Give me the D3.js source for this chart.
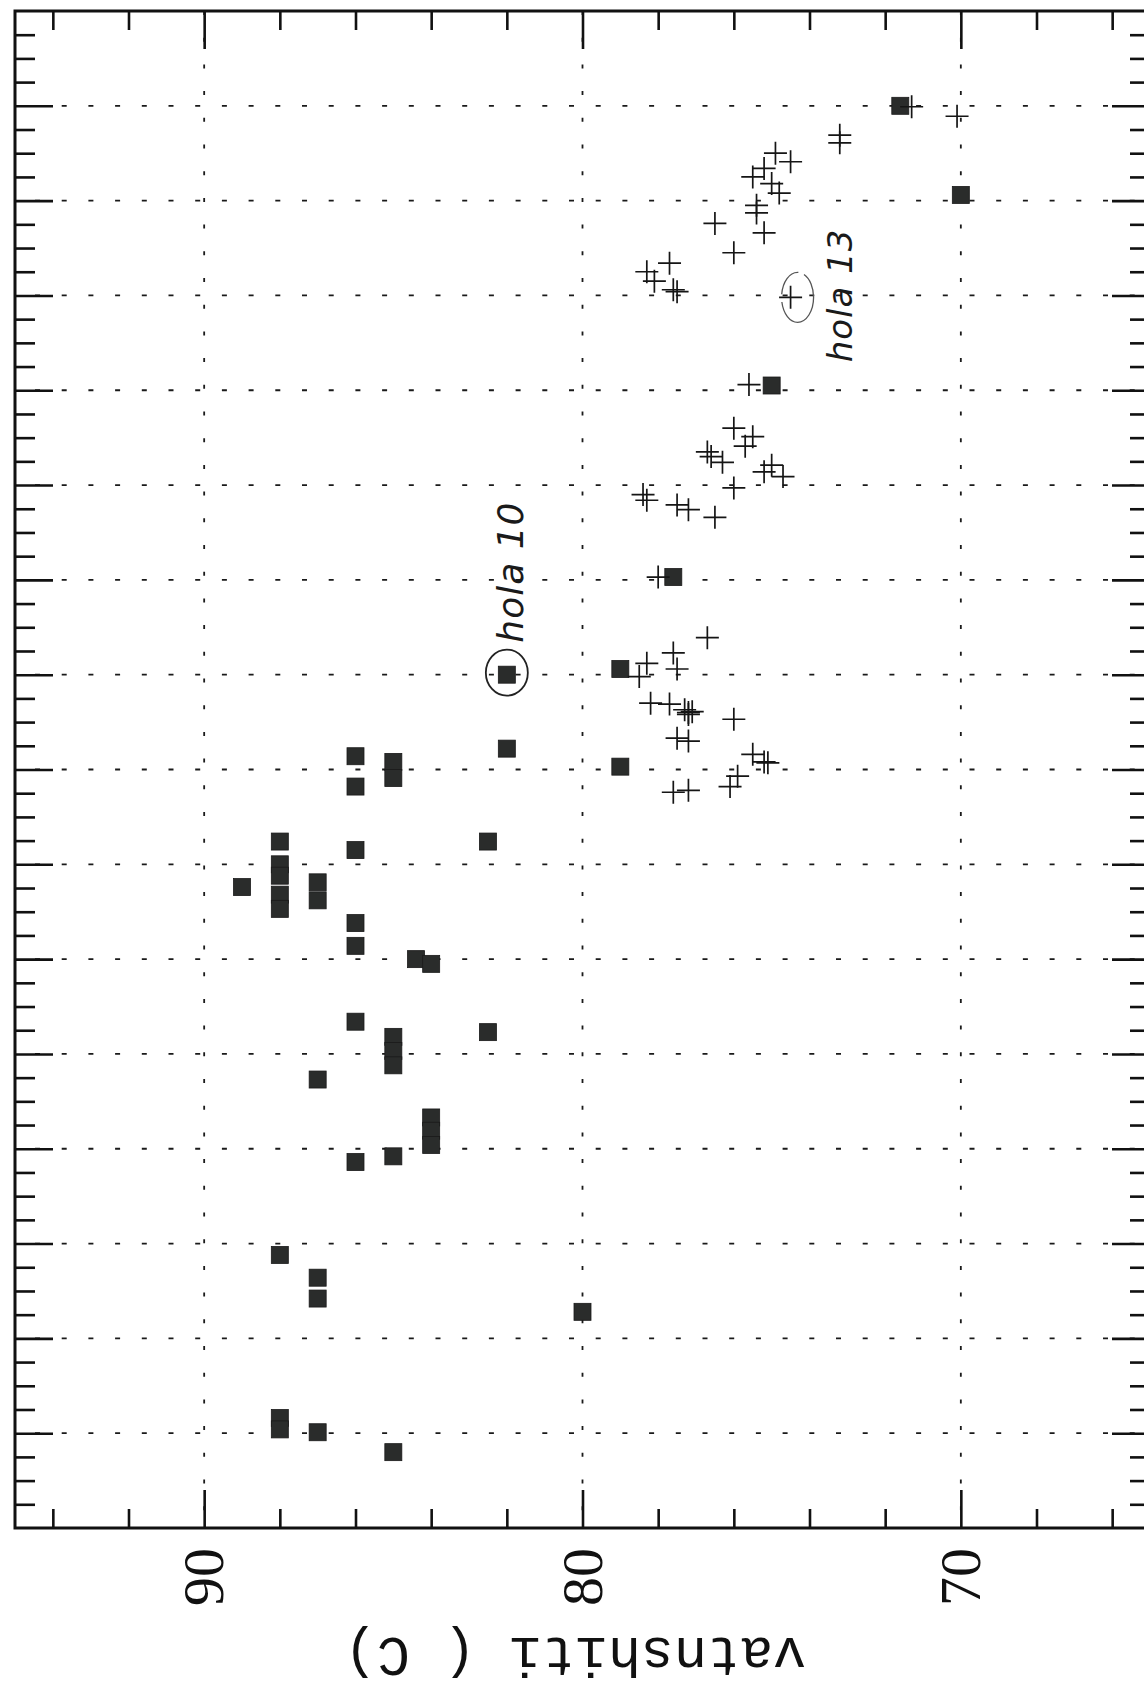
<!DOCTYPE html>
<html>
<head>
<meta charset="utf-8">
<script src="https://cdn.jsdelivr.net/npm/d3@7"></script>
<style>
  body { margin: 0; background: #fff; }
  svg { display: block; }
</style>
</head>
<body>
<svg id="chart" width="1144" height="1697"></svg>
<script>
// filled squares: [vatnshiti (C), position along the other axis]
const squarePoints = [
  [71.6, 15.00], [70.0, 14.06], [75.0, 12.05], [77.6, 10.03], [82.0, 9.00],
  [79.0, 9.06], [82.0, 8.22], [79.0, 8.03], [86.0, 8.14], [85.0, 8.08],
  [85.0, 7.91], [86.0, 7.82], [88.0, 7.24], [82.5, 7.24], [86.0, 7.15],
  [88.0, 7.00], [88.0, 6.88], [89.0, 6.76], [87.0, 6.81], [87.0, 6.62],
  [88.0, 6.68], [88.0, 6.53], [86.0, 6.38], [86.0, 6.14], [84.4, 6.00],
  [84.0, 5.95], [86.0, 5.34], [82.5, 5.23], [85.0, 5.18], [85.0, 5.03],
  [85.0, 4.88], [87.0, 4.73], [84.0, 4.33], [84.0, 4.19], [84.0, 4.04],
  [85.0, 3.92], [86.0, 3.86], [88.0, 2.88], [87.0, 2.64], [87.0, 2.42],
  [80.0, 2.28], [88.0, 1.16], [88.0, 1.04], [87.0, 1.01], [85.0, 0.80]
];

// crosses
const crossPoints = [
  [71.3, 14.99], [70.1, 14.89], [73.2, 14.69], [73.2, 14.61], [74.9, 14.50],
  [74.5, 14.41], [75.2, 14.34], [75.5, 14.25], [75.0, 14.18], [74.8, 14.08],
  [75.4, 13.95], [75.4, 13.87], [76.5, 13.76], [75.2, 13.66], [76.0, 13.45],
  [77.7, 13.34], [78.3, 13.25], [78.1, 13.15], [77.6, 13.06], [77.5, 13.04],
  [74.5, 12.98], [75.6, 12.06], [76.0, 11.60], [75.5, 11.51], [75.7, 11.41],
  [76.7, 11.35], [76.6, 11.30], [76.3, 11.24], [75.0, 11.21], [75.2, 11.14],
  [74.7, 11.09], [76.0, 10.97], [78.4, 10.90], [78.3, 10.84], [77.5, 10.79],
  [77.2, 10.74], [76.5, 10.66], [78.0, 10.03], [76.7, 9.39], [78.3, 9.12],
  [77.6, 9.23], [77.5, 9.06], [78.5, 8.98], [78.2, 8.70], [77.7, 8.69],
  [77.3, 8.63], [77.2, 8.60], [77.2, 8.58], [77.1, 8.61], [76.0, 8.53],
  [77.5, 8.33], [77.2, 8.30], [75.5, 8.16], [75.2, 8.08], [75.1, 8.07],
  [75.9, 7.93], [76.1, 7.82], [77.6, 7.76], [77.2, 7.78]
];

const tempMinorTicks = [94, 92, 88, 86, 84, 82, 78, 76, 74, 72, 68, 66];
const tempMajorTicks = [90, 80, 70];
const tempTickLabels = ["90", "80", "70"];
const posMajorTicks = d3.range(1, 16);
const posMinorTicks = d3.range(0.25, 16, 0.25).filter(d => d % 1 !== 0);
const axisTitle = "vatnshiti ( C)";
const noteTexts = ["hola 10", "hola 13"];

let margin = {top: 11, left: 15, right: 1150, bottom: 1528};

let svg = d3.select("#chart");

let x = d3.scaleLinear().domain([95, 65]).range([margin.left, margin.right]);
let y = d3.scaleLinear().domain([0, 16]).range([margin.bottom, margin.top]);

// dotted grid
svg.append("g")
    .selectAll("line")
    .data(posMajorTicks)
    .enter()
    .append("line")
    .attr("x1", margin.left)
    .attr("x2", margin.right)
    .attr("y1", d => y(d))
    .attr("y2", d => y(d))
    .attr("stroke", "#1a1a1a")
    .attr("stroke-width", 1.8)
    .attr("stroke-dasharray", "5 21.7")
    .attr("stroke-dashoffset", -20);

svg.append("g")
    .selectAll("line")
    .data(tempMajorTicks)
    .enter()
    .append("line")
    .attr("x1", d => x(d))
    .attr("x2", d => x(d))
    .attr("y1", margin.top)
    .attr("y2", margin.bottom)
    .attr("stroke", "#1a1a1a")
    .attr("stroke-width", 1.8)
    .attr("stroke-dasharray", "4 22.7");

// ticks on all four sides, pointing inward
function addAxis(axis, tx, ty) {
    let g = svg.append("g")
        .attr("transform", "translate(" + tx + "," + ty + ")")
        .call(axis);
    g.select(".domain").remove();
    g.selectAll("text").remove();
    g.selectAll("line").attr("stroke", "#111").attr("stroke-width", 2.6);
}

addAxis(d3.axisBottom(x).tickValues(tempMinorTicks).tickSize(19).tickFormat(""), 0, margin.top);
addAxis(d3.axisBottom(x).tickValues(tempMajorTicks).tickSize(38).tickFormat(""), 0, margin.top);
addAxis(d3.axisTop(x).tickValues(tempMinorTicks).tickSize(19).tickFormat(""), 0, margin.bottom);
addAxis(d3.axisTop(x).tickValues(tempMajorTicks).tickSize(38).tickFormat(""), 0, margin.bottom);
addAxis(d3.axisRight(y).tickValues(posMinorTicks).tickSize(20).tickFormat(""), margin.left, 0);
addAxis(d3.axisRight(y).tickValues(posMajorTicks).tickSize(38).tickFormat(""), margin.left, 0);
addAxis(d3.axisLeft(y).tickValues(posMinorTicks).tickSize(20).tickFormat(""), margin.right, 0);
addAxis(d3.axisLeft(y).tickValues(posMajorTicks).tickSize(38).tickFormat(""), margin.right, 0);

// frame
svg.append("rect")
    .attr("x", margin.left)
    .attr("y", margin.top)
    .attr("width", margin.right - margin.left)
    .attr("height", margin.bottom - margin.top)
    .attr("fill", "none")
    .attr("stroke", "#111")
    .attr("stroke-width", 3);

// tick labels, turned with the page
svg.append("g")
    .selectAll("text")
    .data(tempMajorTicks)
    .enter()
    .append("text")
    .attr("transform", d => "translate(" + (x(d) + 19) + ",1577) rotate(-90)")
    .attr("text-anchor", "middle")
    .attr("font-family", "'Liberation Serif', 'DejaVu Serif', serif")
    .attr("font-size", 58)
    .attr("fill", "#111")
    .text((d, i) => tempTickLabels[i]);

// axis title, upside down
svg.append("text")
    .attr("transform", "translate(575,1638) rotate(180)")
    .attr("text-anchor", "middle")
    .attr("font-family", "'Liberation Mono', 'DejaVu Sans Mono', monospace")
    .attr("font-size", 55)
    .attr("fill", "#111")
    .text(axisTitle);

// squares
svg.append("g")
    .selectAll("rect")
    .data(squarePoints)
    .enter()
    .append("rect")
    .attr("x", d => x(d[0]) - 8.5)
    .attr("y", d => y(d[1]) - 8.5)
    .attr("width", 17)
    .attr("height", 17)
    .attr("fill", "#2a2c2b")
    .attr("stroke", "#1a1a1a")
    .attr("stroke-width", 0.8);

// crosses
svg.append("g")
    .selectAll("path")
    .data(crossPoints)
    .enter()
    .append("path")
    .attr("transform", d => "translate(" + x(d[0]) + "," + y(d[1]) + ")")
    .attr("d", "M-11.5,0H11.5M0,-11.5V11.5")
    .attr("fill", "none")
    .attr("stroke", "#151515")
    .attr("stroke-width", 1.7);

// handwritten notes around two points
let p10 = squarePoints[4];
let p13 = crossPoints[20];

svg.append("ellipse")
    .attr("cx", x(p10[0]))
    .attr("cy", y(p10[1]) - 2)
    .attr("rx", 21)
    .attr("ry", 23)
    .attr("fill", "none")
    .attr("stroke", "#222")
    .attr("stroke-width", 1.8);

svg.append("ellipse")
    .attr("cx", x(p13[0]) + 7)
    .attr("cy", y(p13[1]))
    .attr("rx", 16)
    .attr("ry", 25)
    .attr("fill", "none")
    .attr("stroke", "#555")
    .attr("stroke-width", 1.3)
    .attr("stroke-dasharray", "60 8 30 6");

svg.append("text")
    .attr("transform", "translate(" + (x(p10[0]) + 16) + "," + (y(p10[1]) - 32) + ") rotate(-90)")
    .attr("font-family", "'DejaVu Sans', sans-serif")
    .attr("font-style", "italic")
    .attr("font-size", 36)
    .attr("letter-spacing", 1)
    .attr("fill", "#1a1a1a")
    .text(noteTexts[0]);

svg.append("text")
    .attr("transform", "translate(" + (x(p13[0]) + 61) + "," + (y(p13[1]) + 65) + ") rotate(-90)")
    .attr("font-family", "'DejaVu Sans', sans-serif")
    .attr("font-style", "italic")
    .attr("font-size", 34)
    .attr("letter-spacing", 1)
    .attr("fill", "#1a1a1a")
    .text(noteTexts[1]);
</script>
</body>
</html>
